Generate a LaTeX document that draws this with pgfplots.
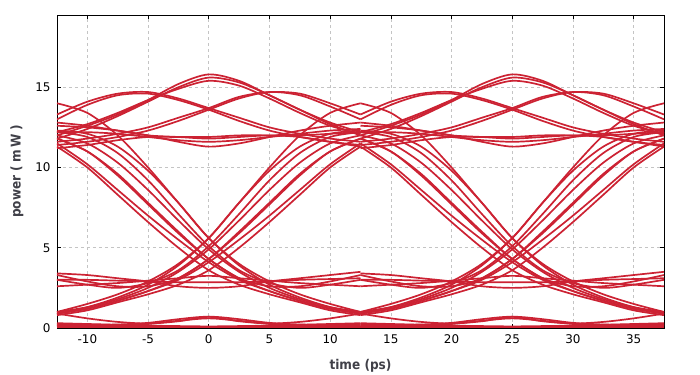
\documentclass[border=0pt]{standalone}
\usepackage{fontspec}
\setmainfont{DejaVu Sans}
\newfontfamily\labfont{DejaVu Sans Condensed}
\usepackage{pgfplots}
\usepackage{pgfplotstable}
\pgfplotsset{compat=1.18}
\definecolor{eye}{RGB}{204,34,51}
\definecolor{labgray}{RGB}{64,64,72}
\definecolor{gridgray}{RGB}{196,196,196}

\pgfplotstableread{
t     U1a  U1b  U1c  U2a  U2b  U3a  U3b  U4a  U4b  U4c  U4d  F0   R0
-12.5 12.0 11.8 12.2 11.4 11.6 13.0 13.3 12.6 12.2 11.2 12.8 14.0 1.0
-10   12.6 12.4 12.7 11.6 11.8 13.9 14.1 12.5 12.2 11.4 12.6 13.4 1.5
-7.5  13.3 13.2 13.4 11.9 12.1 14.5 14.6 12.3 12.1 11.7 12.3 12.0 2.1
-5    14.2 14.1 14.2 12.3 12.5 14.6 14.7 12.0 11.9 11.9 12.0 10.0 2.9
-2.5  15.2 15.0 14.9 12.9 13.1 14.2 14.3 11.6 11.7 11.9 11.9 7.8  4.0
0     15.8 15.6 15.4 13.6 13.7 13.6 13.7 11.3 11.6 11.9 11.8 5.6  5.6
2.5   15.4 15.3 15.1 14.3 14.4 12.9 13.1 11.5 11.7 12.0 11.9 4.0  7.8
5     14.5 14.5 14.3 14.7 14.7 12.3 12.5 11.9 11.9 12.0 12.0 2.9  10.0
7.5   13.6 13.6 13.4 14.5 14.6 11.9 12.1 12.3 12.1 12.0 11.9 2.1  12.0
10    12.8 12.7 12.6 13.8 14.0 11.6 11.8 12.6 12.3 12.1 11.6 1.5  13.4
12.5  12.2 12.0 12.1 13.0 13.3 11.4 11.6 12.8 12.4 12.2 11.3 1.0  14.0
}\uptab

\pgfplotstableread{
t     F1   F2   F3   F4   F5   G1   G2   R1   R2   R3   R4   R5   S1   S2
-12.5 11.5 12.0 12.3 11.3 11.8 11.8 12.2 0.9  1.0  0.9  0.8  0.9  3.3  3.0
-10   10.2 11.5 12.1 10.0 11.0 11.0 11.9 1.2  1.3  1.3  1.1  1.2  2.9  2.7
-7.5  8.6  10.3 11.3 8.3  9.6  9.5  10.9 1.7  1.8  1.9  1.6  1.7  2.6  2.5
-5    7.0  8.6  9.8  6.6  7.8  7.7  9.2  2.3  2.5  2.7  2.1  2.3  2.6  2.8
-2.5  5.5  6.7  7.8  5.0  6.0  5.9  7.1  3.0  3.5  3.9  2.7  3.1  3.1  3.6
0     4.1  4.9  5.6  3.6  4.3  4.3  5.1  4.1  4.9  5.6  3.6  4.3  4.3  5.1
2.5   3.0  3.5  3.9  2.7  3.1  3.1  3.6  5.5  6.7  7.8  5.0  6.0  5.9  7.1
5     2.3  2.5  2.7  2.1  2.3  2.6  2.8  7.0  8.6  9.8  6.6  7.8  7.7  9.2
7.5   1.7  1.8  1.9  1.6  1.7  2.6  2.5  8.6  10.3 11.3 8.3  9.6  9.5  10.9
10    1.2  1.3  1.3  1.1  1.2  2.9  2.7  10.2 11.5 12.1 10.0 11.0 11.0 11.9
12.5  0.9  1.0  0.9  0.8  0.9  3.3  3.0  11.5 12.0 12.3 11.3 11.8 11.8 12.2
}\trtab

\pgfplotstableread{
t     L1a  L1b  L2a  L2b  L2c  L3a  L3b  L3c
-12.5 0.08 0.30 0.90 0.20 0.15 3.4  3.0  2.6
-10   0.08 0.25 0.60 0.20 0.12 3.3  3.0  2.7
-7.5  0.08 0.20 0.38 0.22 0.15 3.1  2.95 2.8
-5    0.08 0.15 0.28 0.32 0.25 2.9  2.9  2.95
-2.5  0.08 0.12 0.42 0.55 0.45 2.6  2.85 3.1
0     0.08 0.10 0.70 0.70 0.60 2.5  2.85 3.25
2.5   0.08 0.12 0.55 0.42 0.45 2.6  2.85 3.1
5     0.08 0.15 0.32 0.28 0.25 2.9  2.9  2.95
7.5   0.08 0.20 0.22 0.38 0.15 3.1  3.0  2.8
10    0.08 0.25 0.20 0.60 0.12 3.3  3.05 2.7
12.5  0.08 0.30 0.20 0.90 0.15 3.5  3.1  2.6
}\lowtab

\begin{document}
\begin{tikzpicture}
\begin{axis}[
  scale only axis,
  width=607bp, height=313bp,
  xmin=-12.5, xmax=37.5, ymin=0, ymax=19.5,
  xtick={-10,-5,...,35}, ytick={0,5,10,15},
  grid=major,
  grid style={dash pattern=on 3bp off 3bp, gridgray, line width=0.7pt},
  tick align=inside,
  major tick length=4bp,
  tick style={black, line width=0.6pt},
  axis line style={black, line width=0.8pt},
  /pgf/number format/assume math mode=true,
  tick label style={font=\fontsize{12}{14}\selectfont, black},
  xticklabel style={yshift=-3.5bp},
  yticklabel style={xshift=-3bp},
  xlabel={time (ps)},
  ylabel={power (\kern3pt m\kern3pt W\kern3pt)},
  label style={font=\labfont\bfseries\fontsize{13.5}{16}\selectfont, text=labgray},
  xlabel style={yshift=-8bp},
  ylabel style={yshift=5bp},
]
\pgfplotsinvokeforeach{U1a,U1b,U1c,U2a,U2b,U3a,U3b,U4a,U4b,U4c,U4d,F0,R0}{
  \addplot[eye, line width=1.7pt, smooth] table[x=t, y=#1]{\uptab};
  \addplot[eye, line width=1.7pt, smooth] table[x expr=\thisrow{t}+25, y=#1]{\uptab};
}
\pgfplotsinvokeforeach{F1,F2,F3,F4,F5,G1,G2,R1,R2,R3,R4,R5,S1,S2}{
  \addplot[eye, line width=1.7pt, smooth] table[x=t, y=#1]{\trtab};
  \addplot[eye, line width=1.7pt, smooth] table[x expr=\thisrow{t}+25, y=#1]{\trtab};
}
\pgfplotsinvokeforeach{L1a,L1b,L2a,L2b,L2c,L3a,L3b,L3c}{
  \addplot[eye, line width=1.7pt, smooth] table[x=t, y=#1]{\lowtab};
  \addplot[eye, line width=1.7pt, smooth] table[x expr=\thisrow{t}+25, y=#1]{\lowtab};
}
\end{axis}
\pgfresetboundingbox
\path (current axis.south west) ++(-57bp,-47bp) rectangle ([shift={(36bp,15bp)}]current axis.north east);
\end{tikzpicture}
\end{document}
